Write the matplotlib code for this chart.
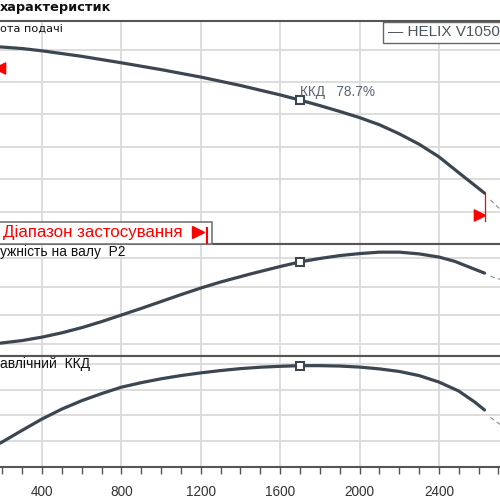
import matplotlib
matplotlib.use('Agg')
from matplotlib import pyplot as plt
from matplotlib.patches import Rectangle
from matplotlib.lines import Line2D

# head curve (top panel)
q_head = [190, 300, 400, 600, 800, 1000, 1200, 1400, 1600, 1700, 1800, 1900, 2000,
          2100, 2200, 2300, 2400, 2500, 2630]
head = [60.8, 60.3, 59.6, 57.9, 55.9, 53.8, 51.5, 48.9, 46.0, 44.4, 42.7, 40.9, 39.0,
        36.8, 34.0, 30.8, 26.9, 22.0, 15.7]

# shaft power (middle panel)
q_power = [190, 300, 400, 500, 600, 700, 800, 900, 1000, 1100, 1200, 1300, 1450, 1600,
           1700, 1800, 1900, 2000, 2100, 2200, 2300, 2400, 2480, 2560, 2630]
power = [1.03, 1.12, 1.24, 1.39, 1.57, 1.78, 2.01, 2.24, 2.48, 2.72, 2.95, 3.16, 3.44,
         3.70, 3.86, 3.98, 4.08, 4.15, 4.20, 4.20, 4.14, 4.03, 3.88, 3.66, 3.47]

# hydraulic efficiency (bottom panel)
q_eff = [190, 300, 400, 500, 600, 700, 800, 900, 1000, 1100, 1200, 1300, 1400, 1500,
         1600, 1700, 1800, 1900, 2000, 2100, 2200, 2300, 2400, 2500, 2580, 2630]
eff = [18.6, 28.5, 37.3, 45.0, 51.5, 57.0, 62.0, 65.5, 68.5, 71.0, 73.1, 74.9, 76.4,
       77.5, 78.2, 78.7, 78.7, 78.4, 77.6, 76.2, 74.2, 71.0, 66.0, 59.0, 50.5, 44.3]

# dashed continuation past the application range
q_ext = [2660, 2720]
head_ext = [13.6, 10.0]
power_ext = [3.36, 3.23]
eff_ext = [38.5, 31.8]

duty_q = 1700
duty_head = 44.4
duty_power = 3.86
duty_eff = 78.7

range_min = 160
range_max = 2630
range_mark_y = [54.3, 9.0]

line_c = '#3b4650'
grid_c = '#dadada'
spine_c = '#555555'

fig = plt.figure(figsize=(5, 5), dpi=100)
ax_h = fig.add_axes([0, 0.512, 1, 0.446])
ax_p = fig.add_axes([0, 0.288, 1, 0.224])
ax_e = fig.add_axes([0, 0.066, 1, 0.222])

for ax in (ax_h, ax_p, ax_e):
    ax.set_xlim(188, 2708)
    ax.set_xticks(range(400, 2500, 400))
    ax.grid(True, color=grid_c, linewidth=1.3)
    ax.set_axisbelow(True)
    ax.spines['left'].set_visible(False)
    ax.spines['right'].set_visible(False)
    ax.spines['top'].set_color(spine_c)
    ax.spines['top'].set_linewidth(1.5)
    ax.spines['bottom'].set_color(spine_c)
    ax.spines['bottom'].set_linewidth(1.5)
    ax.tick_params(axis='y', left=False, labelleft=False)

ax_h.tick_params(axis='x', bottom=False, labelbottom=False)
ax_p.tick_params(axis='x', bottom=False, labelbottom=False)

ax_h.set_ylim(0, 68.8)
ax_h.set_yticks([10, 20, 30, 40, 50, 60])
ax_p.set_ylim(0.582, 4.484)
ax_p.set_yticks([1, 2, 3, 4])
ax_e.set_ylim(0, 86.2)
ax_e.set_yticks([20, 40, 60, 80])

ax_e.set_xticks(range(200, 2701, 100), minor=True)
ax_e.tick_params(axis='x', which='both', direction='out', length=5, width=1,
                 color=spine_c, labelsize=9.8, labelcolor='#333333', pad=8)
for lab in ax_e.get_xticklabels():
    lab.set_family(['Liberation Sans', 'DejaVu Sans'])

# curves
ax_h.plot(q_head, head, color=line_c, linewidth=2.3, solid_capstyle='round',
          solid_joinstyle='round')
ax_p.plot(q_power, power, color=line_c, linewidth=2.3, solid_capstyle='round',
          solid_joinstyle='round')
ax_e.plot(q_eff, eff, color=line_c, linewidth=2.3, solid_capstyle='round',
          solid_joinstyle='round')

ax_h.plot(q_ext, head_ext, color='#888888', linewidth=0.8, linestyle=(0, (4, 3)))
ax_p.plot(q_ext, power_ext, color='#888888', linewidth=0.8, linestyle=(0, (4, 3)))
ax_e.plot(q_ext, eff_ext, color='#888888', linewidth=0.8, linestyle=(0, (4, 3)))

for ax, y in ((ax_h, duty_head), (ax_p, duty_power), (ax_e, duty_eff)):
    ax.plot([duty_q], [y], marker='s', markersize=5.5, markerfacecolor='white',
            markeredgecolor=line_c, markeredgewidth=1.5, zorder=5)

# application range markers
tri_right = [(0, 0), (-2, 1), (-2, -1), (0, 0)]
tri_left = [(0, 0), (2, 1), (2, -1), (0, 0)]
ax_h.plot([range_max, range_max], [head[-1], range_mark_y[1] - 1.8], color='red', linewidth=0.9)
ax_h.plot([range_max], [range_mark_y[1]], marker=tri_right, markersize=16, color='red',
          linestyle='none', clip_on=False)
ax_h.plot([range_min], [range_mark_y[0]], marker=tri_left, markersize=16, color='red',
          linestyle='none')

# texts
fig.text(0.0, 1 - 8 / 500, 'характеристик', fontsize=9.3, fontweight='bold',
         family='DejaVu Sans', va='center', ha='left', color='#111111')
fig.text(0.0, 1 - 30 / 500, 'ота подачі', fontsize=8.1, family='DejaVu Sans',
         va='center', ha='left', color='#111111')
fig.text(0.0, 1 - 252 / 500, 'ужність на валу  P2', fontsize=9.9,
         family='Liberation Sans', va='center', ha='left', color='#111111')
fig.text(0.0, 1 - 364 / 500, 'авлічний  ККД', fontsize=10,
         family='Liberation Sans', va='center', ha='left', color='#111111')
fig.text(300 / 500, 1 - 92 / 500, 'ККД   78.7%', fontsize=9.8,
         family='Liberation Sans', va='center', ha='left', color='#5a6470')

# application range label box
fig.patches.append(Rectangle((-0.01, 1 - 244 / 500), 0.01 + 212 / 500, 22 / 500,
                             transform=fig.transFigure, facecolor='white',
                             edgecolor='#777777', linewidth=1.2))
fig.text(3 / 500, 1 - 233 / 500, 'Діапазон застосування', fontsize=12.2,
         family='Liberation Sans', va='center', ha='left', color='red')
fig.lines.append(Line2D([197.5 / 500], [1 - 232 / 500], marker='>', markersize=8,
                        color='red', transform=fig.transFigure))
fig.lines.append(Line2D([207 / 500, 207 / 500], [1 - 228 / 500, 1 - 243 / 500],
                        color='red', linewidth=1.5, transform=fig.transFigure))

# legend box
fig.patches.append(Rectangle((383 / 500, 1 - 43 / 500), 0.3, 21 / 500,
                             transform=fig.transFigure, facecolor='white',
                             edgecolor='#666666', linewidth=1.0))
fig.text(388 / 500, 1 - 32.5 / 500, '— HELIX V1050', fontsize=11,
         family='Liberation Sans', va='center', ha='left', color='#4a5560')

fig.savefig('out.png', dpi=100)
